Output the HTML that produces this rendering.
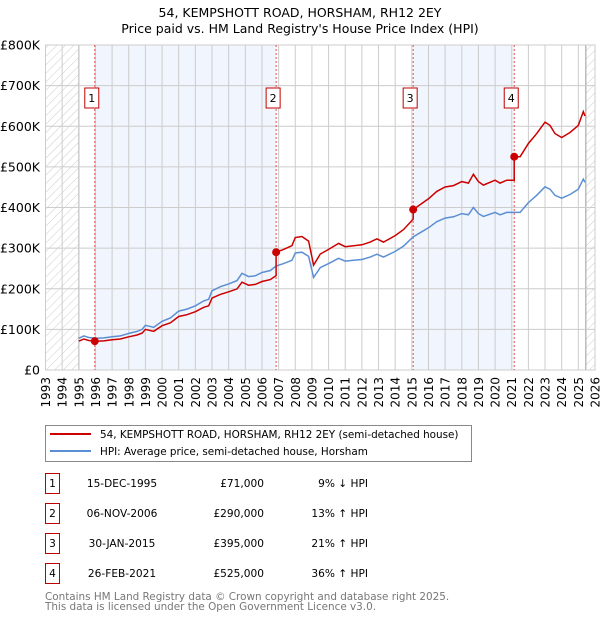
<!DOCTYPE html>
<html><head><meta charset="utf-8"><style>
body{margin:0;background:#fff;font-family:"Liberation Sans","DejaVu Sans",sans-serif;}
svg text{font-family:"DejaVu Sans","Liberation Sans",sans-serif;}
</style></head><body>
<svg id="chart" width="600" height="620" xmlns="http://www.w3.org/2000/svg">
<defs>
<pattern id="hatch" width="6" height="6" patternUnits="userSpaceOnUse" patternTransform="rotate(45)">
<line x1="0" y1="0" x2="0" y2="6" stroke="#ccc" stroke-width="1"/></pattern>
</defs>
<text x="300" y="17" text-anchor="middle" font-size="12.5" fill="#000">54, KEMPSHOTT ROAD, HORSHAM, RH12 2EY</text>
<text x="300" y="33" text-anchor="middle" font-size="12.5" fill="#000">Price paid vs. HM Land Registry's House Price Index (HPI)</text>
<g id="plot"></g>
<g>
<rect x="45.5" y="425.5" width="426" height="36" fill="#fff" stroke="#888"/>
<line x1="50" y1="434" x2="91" y2="434" stroke="#cc0000" stroke-width="2"/>
<text x="100" y="438" font-size="10.4">54, KEMPSHOTT ROAD, HORSHAM, RH12 2EY (semi-detached house)</text>
<line x1="50" y1="451" x2="91" y2="451" stroke="#5b8fd4" stroke-width="2"/>
<text x="100" y="455" font-size="10.4">HPI: Average price, semi-detached house, Horsham</text>
</g>
<g id="table" font-size="10.6"></g>
<text x="45" y="600" font-size="10.4" fill="#777">Contains HM Land Registry data © Crown copyright and database right 2025.</text>
<text x="45" y="610" font-size="10.4" fill="#777">This data is licensed under the Open Government Licence v3.0.</text>
</svg>
<script>
const hpiYears=[1995.0,1995.3,1995.6,1996.0,1996.5,1997.0,1997.5,1998.0,1998.5,1998.8,1999.0,1999.5,2000.0,2000.5,2001.0,2001.5,2002.0,2002.5,2002.8,2003.0,2003.5,2004.0,2004.5,2004.8,2005.2,2005.6,2006.0,2006.5,2006.85,2007.3,2007.8,2008.0,2008.4,2008.8,2009.1,2009.5,2010.0,2010.6,2011.0,2011.5,2012.0,2012.5,2012.9,2013.3,2014.0,2014.5,2015.08,2015.5,2016.0,2016.5,2017.0,2017.5,2018.0,2018.4,2018.7,2019.0,2019.3,2020.0,2020.3,2020.7,2021.15,2021.5,2022.0,2022.5,2023.0,2023.3,2023.6,2024.0,2024.5,2025.0,2025.3,2025.4];
const hpiValues=[78,84,80,78,79,82,84,90,95,100,110,105,120,128,145,150,158,170,174,195,205,212,220,238,230,232,240,245,256,262,270,288,290,280,228,252,262,275,268,270,272,278,285,278,292,305,328,338,350,365,374,377,385,382,400,385,378,388,382,388,388,388,412,430,451,445,430,423,432,445,470,462];
const saleYears=[1995.96,2006.85,2015.08,2021.15];
const salePrices=[71,290,395,525];
const saleDates=["15-DEC-1995","06-NOV-2006","30-JAN-2015","26-FEB-2021"];
const salePriceLabels=["£71,000","£290,000","£395,000","£525,000"];
const saleHpiLabels=["9% ↓ HPI","13% ↑ HPI","21% ↑ HPI","36% ↑ HPI"];
const yTicks=[0,100,200,300,400,500,600,700,800];
const yTickLabels=["£0","£100K","£200K","£300K","£400K","£500K","£600K","£700K","£800K"];
const xTicks=[1993,1994,1995,1996,1997,1998,1999,2000,2001,2002,2003,2004,2005,2006,2007,2008,2009,2010,2011,2012,2013,2014,2015,2016,2017,2018,2019,2020,2021,2022,2023,2024,2025,2026];

const X0=45.5,X1=595,Y0=370,Y1=45;
const xs=y=>X0+(y-1993)/33*(X1-X0);
const ys=v=>Y0-v/800*(Y0-Y1);
const NS="http://www.w3.org/2000/svg";
const plot=document.getElementById('plot');
function mk(tag,attrs,parent){const e=document.createElementNS(NS,tag);for(const k in attrs)e.setAttribute(k,attrs[k]);(parent||plot).appendChild(e);return e;}
function hpiAt(t){for(let i=0;i<hpiYears.length-1;i++){if(t<=hpiYears[i+1]){const f=(t-hpiYears[i])/(hpiYears[i+1]-hpiYears[i]);return hpiValues[i]+f*(hpiValues[i+1]-hpiValues[i]);}}return hpiValues[hpiValues.length-1];}

for(let i=0;i<saleYears.length;i+=2){
 const r=mk('rect',{x:xs(saleYears[i]),y:Y1,width:xs(saleYears[i+1])-xs(saleYears[i]),height:Y0-Y1,fill:'#eef3fc',opacity:0.8});
 
 
}
const h1=mk('rect',{x:X0,y:Y1,width:xs(1995)-X0,height:Y0-Y1,fill:'url(#hatch)'});


const h2=mk('rect',{x:xs(2025.45),y:Y1,width:X1-xs(2025.45),height:Y0-Y1,fill:'url(#hatch)'});


mk('line',{x1:xs(1995),x2:xs(1995),y1:Y1,y2:Y0,stroke:'#999'});
mk('line',{x1:xs(2025.45),x2:xs(2025.45),y1:Y1,y2:Y0,stroke:'#999'});
xTicks.forEach(t=>{mk('line',{x1:xs(t),x2:xs(t),y1:Y1,y2:Y0,stroke:'#ccc'});
 const tx=mk('text',{x:0,y:0,'font-size':12,'text-anchor':'end',transform:`translate(${xs(t)+4.5},${Y0+7}) rotate(-90)`});
 tx.textContent=t;
 
 });
yTicks.forEach((t,i)=>{mk('line',{x1:X0,x2:X1,y1:ys(t),y2:ys(t),stroke:'#ccc'});
 const tx=mk('text',{x:40,y:ys(t)+4.5,'font-size':12.5,'text-anchor':'end'});
 tx.textContent=yTickLabels[i];
 
 });
mk('rect',{x:X0,y:Y1,width:X1-X0,height:Y0-Y1,fill:'none',stroke:'#ccc'});
saleYears.forEach((s,i)=>{
 mk('line',{x1:xs(s),x2:xs(s),y1:Y1,y2:Y0,stroke:'#e05050','stroke-dasharray':'2,2','stroke-width':1});
 const b=mk('rect',{x:xs(s)-10,y:88,width:14,height:20,fill:'#fff',stroke:'#c00000'});
 
 
 const t=mk('text',{x:xs(s)-3,y:102,'font-size':11,'text-anchor':'middle'});t.textContent=i+1;
});
let d='';hpiYears.forEach((y,i)=>{d+=(i?'L':'M')+xs(y).toFixed(1)+','+ys(hpiValues[i]).toFixed(1);});
const hl=mk('path',{d:d,fill:'none',stroke:'#5b8fd4','stroke-width':1.5});


const ratios=saleYears.map((s,i)=>salePrices[i]/hpiAt(s));
function ratioAt(t){let r=ratios[0];saleYears.forEach((s,i)=>{if(t>=s)r=ratios[i];});return r;}
const pts=[];
hpiYears.forEach((y,i)=>{
 saleYears.forEach((s,k)=>{const prev=pts.length?pts[pts.length-1][0]:-1;if(s>prev&&s<=y){const hv=hpiAt(s);pts.push([s,hv*(k?ratios[k-1]:ratios[0])]);pts.push([s,salePrices[k]]);}});
 pts.push([y,hpiValues[i]*ratioAt(y)]);
});
let d2='';pts.forEach((p,i)=>{d2+=(i?'L':'M')+xs(p[0]).toFixed(1)+','+ys(p[1]).toFixed(1);});
const pl=mk('path',{d:d2,fill:'none',stroke:'#cc0000','stroke-width':1.5});


saleYears.forEach((s,i)=>{const c=mk('circle',{cx:xs(s),cy:ys(salePrices[i]),r:4,fill:'#cc0000'});
 
 });
const tb=document.getElementById('table');
saleYears.forEach((s,i)=>{const y=483+i*30;
 const r=mk('rect',{x:45.5,y:y-9.5,width:14,height:20,fill:'#fff',stroke:'#c00000'},tb);
 
 
 const a=mk('text',{x:52.5,y:y+4,'text-anchor':'middle'},tb);a.textContent=i+1;
 const b=mk('text',{x:122,y:y+4,'text-anchor':'middle'},tb);b.textContent=saleDates[i];
 
 
 const c=mk('text',{x:264,y:y+4,'text-anchor':'end'},tb);c.textContent=salePriceLabels[i];
 
 
 const e=mk('text',{x:368,y:y+4,'text-anchor':'end'},tb);e.textContent=saleHpiLabels[i];
 
 
});
</script>
</body></html>
